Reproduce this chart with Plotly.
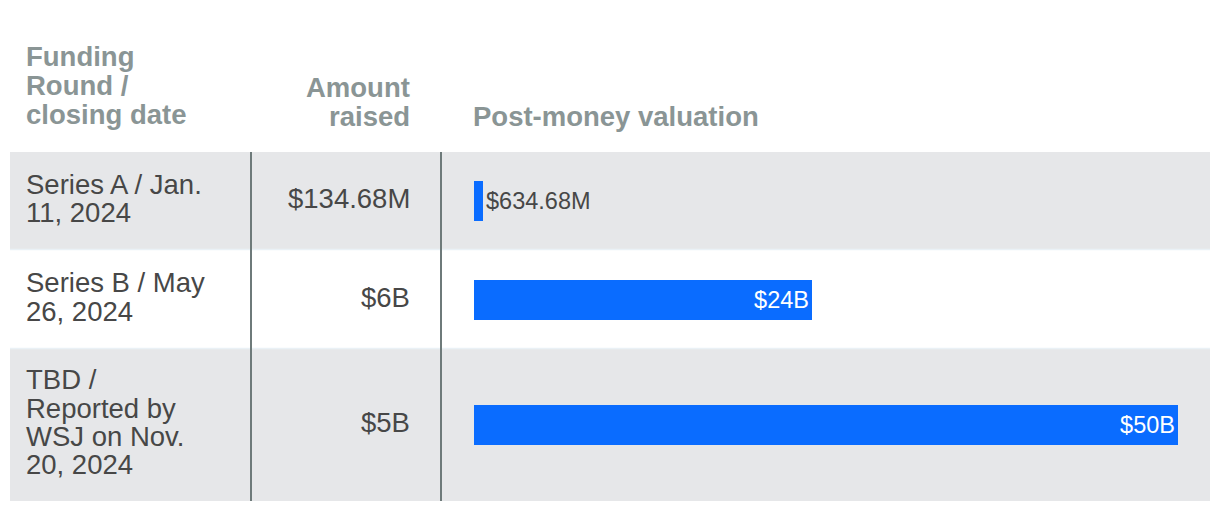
import plotly.graph_objects as go

# data
round_lines = [
    ["Series A / Jan.", "11, 2024"],
    ["Series B / May", "26, 2024"],
    ["TBD /", "Reported by", "WSJ on Nov.", "20, 2024"],
]
amount_raised = ["$134.68M", "$6B", "$5B"]
valuation_bn = [0.63468, 24, 50]
valuation_labels = ["$634.68M", "$24B", "$50B"]
header_round = ["Funding", "Round /", "closing date"]
header_amount = ["Amount", "raised"]
header_valuation = "Post-money valuation"

# layout (pixels in the page; the page body adds an 8px margin)
W, H = 1220, 512
OFF = 8
PAD = 3  # annotation inner padding
row_edges = [152, 250, 349, 501]
row_fill = ["#e6e7e9", "#ffffff", "#e6e7e9"]
table_x = (10, 1210)
dividers = [251, 441]
bar_x = (474, 1178)
bar_px = 40
line_h = 28.3
FONT = "Liberation Sans, Arial, sans-serif"
BODY = "#474747"
HEAD = "#8a9595"
BLUE = "#0a6cff"
fs_body = 27.5
fs_head = 27.5
fs_bar = 23.5


def px(x):
    return (x - OFF) / W


def py(y):
    return 1 - (y - OFF) / H


def text(s, x, baseline, anchor, size, color, weight="normal"):
    x = x - PAD if anchor == "left" else x + PAD
    return dict(
        text=s, x=px(x), y=py(baseline - 0.33 * size), xref="paper", yref="paper",
        xanchor=anchor, yanchor="middle", showarrow=False,
        font=dict(family=FONT, size=size, color=color, weight=weight),
    )


fig = go.Figure()
shapes = []
annotations = []

for i, (top, bottom) in enumerate(zip(row_edges[:-1], row_edges[1:])):
    shapes.append(dict(
        type="rect", xref="paper", yref="paper", layer="below",
        x0=px(table_x[0]), x1=px(table_x[1]), y0=py(bottom), y1=py(top),
        fillcolor=row_fill[i], line_width=0,
    ))
    if i > 0:
        shapes.append(dict(
            type="line", xref="paper", yref="paper", layer="below",
            x0=px(table_x[0]), x1=px(table_x[1]), y0=py(top - 0.5), y1=py(top - 0.5),
            line=dict(color="#eaf1f6", width=1.5),
        ))
    mid = (top + bottom) / 2
    lines = round_lines[i]
    for j, ln in enumerate(lines):
        base = mid + 6.5 + (j - (len(lines) - 1) / 2) * line_h
        annotations.append(text(ln, 27, base, "left", fs_body, BODY))
    annotations.append(text(amount_raised[i], 409, mid + 7, "right", fs_body, BODY))

    n = i + 1
    ax = "" if n == 1 else str(n)
    inside = valuation_bn[i] > 5
    fig.add_trace(go.Bar(
        x=[valuation_bn[i]], y=[0], orientation="h",
        xaxis="x" + ax, yaxis="y" + ax,
        width=bar_px / (bottom - top),
        marker=dict(color=BLUE, line_width=0),
        text=[valuation_labels[i]],
        textposition="inside" if inside else "outside",
        insidetextanchor="end",
        textfont=dict(family=FONT, size=fs_bar, color="#ffffff" if inside else BODY),
        cliponaxis=False, hoverinfo="skip", showlegend=False,
    ))
    axis_common = dict(showgrid=False, zeroline=False, showticklabels=False,
                       showline=False, fixedrange=True)
    fig.layout["xaxis" + ax] = dict(
        domain=[px(bar_x[0]), px(bar_x[1])], range=[0, max(valuation_bn)],
        anchor="y" + ax, **axis_common,
    )
    fig.layout["yaxis" + ax] = dict(
        domain=[py(bottom), py(top)], range=[-0.5, 0.5],
        anchor="x" + ax, **axis_common,
    )

for x in dividers:
    shapes.append(dict(
        type="line", xref="paper", yref="paper",
        x0=px(x), x1=px(x), y0=py(row_edges[-1]), y1=py(row_edges[0]),
        line=dict(color="#6e7a7a", width=2),
    ))

# headers (placed by baseline)
for j, ln in enumerate(header_round):
    annotations.append(text(ln, 27, 66 + j * 29, "left", fs_head, HEAD, "bold"))
for j, ln in enumerate(header_amount):
    annotations.append(text(ln, 409, 97 + j * 29, "right", fs_head, HEAD, "bold"))
annotations.append(text(header_valuation, 474, 126, "left", fs_head, HEAD, "bold"))

fig.update_layout(
    width=W, height=H,
    margin=dict(l=0, r=0, t=0, b=0),
    paper_bgcolor="#ffffff", plot_bgcolor="rgba(0,0,0,0)",
    shapes=shapes, annotations=annotations,
    bargap=0, showlegend=False,
)

fig.write_html("out.html", config={"displayModeBar": False})
